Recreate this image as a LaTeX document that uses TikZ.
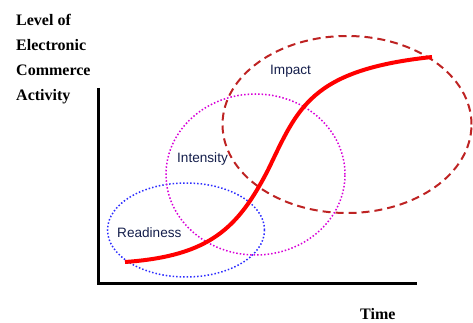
\documentclass[tikz,border=0pt]{standalone}
\usepackage{fontspec}
\setmainfont{Liberation Serif}
\setsansfont{Liberation Sans}
\usetikzlibrary{shapes.geometric}
\definecolor{labelblue}{RGB}{20,30,75}
\definecolor{impactred}{RGB}{190,35,35}
\definecolor{intensitymag}{RGB}{215,0,215}
\definecolor{readyblue}{RGB}{45,45,255}
\tikzstyle{axis}=[line width=3pt]
\tikzstyle{phase}=[ellipse, inner sep=0pt]
\tikzstyle{phase label}=[anchor=base west, inner sep=0pt, font=\sffamily\fontsize{13.6}{16}\selectfont, text=labelblue]
\tikzstyle{axis label}=[anchor=base west, inner sep=0pt, align=left, font=\bfseries\fontsize{16}{25}\selectfont]
\tikzstyle{growth}=[red, line width=4pt]

\begin{document}
\begin{tikzpicture}[x=1pt, y=-1pt]
  \useasboundingbox (0,0) rectangle (473,323);
  % the three phases
  \node[phase, draw=readyblue, dotted, line width=1.5pt, minimum width=157pt, minimum height=94pt] (readiness) at (186,230) {};
  \node[phase, draw=intensitymag, dotted, line width=1.5pt, minimum width=179pt, minimum height=161pt] (intensity) at (255.5,174.5) {};
  \node[phase, draw=impactred, dash pattern=on 8pt off 5pt, line width=2pt, minimum width=249pt, minimum height=177pt] (impact) at (347,124.5) {};
  \node[phase label] (readiness text) at (117,237) {Readiness};
  \node[phase label] (intensity text) at (177,163) {Intensity};
  \node[phase label] (impact text) at (270,75) {Impact};
  % axes
  \coordinate (top) at (98,88);
  \coordinate (origin) at (98,283);
  \coordinate (right) at (417,283);
  \draw[axis] (top) -- (origin) -- (right);
  \node[axis label] (level) at (16,101) {Level of\\Electronic\\Commerce\\Activity};
  \node[axis label] (time) at (360,319) {Time};
  % s-curve
  \coordinate (start) at (125,262);
  \coordinate (end) at (432,57);
  \draw[growth] (start) .. controls (210,256) and (238,228) .. (268,170)
    .. controls (298,108) and (310,70) .. (end);
\end{tikzpicture}
\end{document}
